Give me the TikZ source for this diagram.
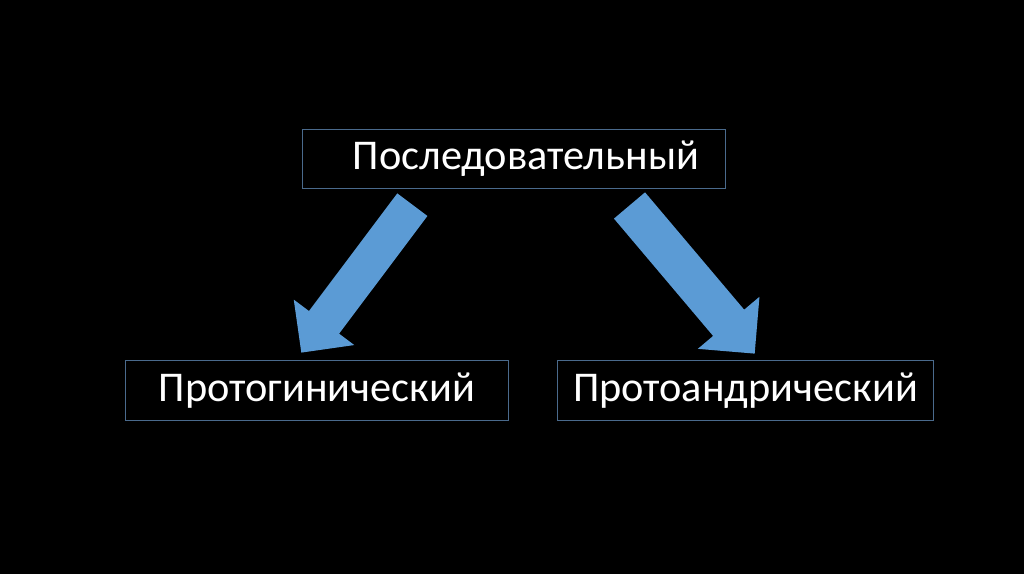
\documentclass[tikz,border=0pt]{standalone}
\usepackage{fontspec}
\setmainfont{Carlito}
\usetikzlibrary{shapes.arrows}
\definecolor{boxline}{HTML}{4A6A8C}
\definecolor{arrowblue}{HTML}{5B9BD5}

\begin{document}
\begin{tikzpicture}[
    x=0.02cm, y=-0.02cm,
    every node/.style={font=\fontsize{24.1}{28}\selectfont, text=white},
    kindbox/.style={rectangle, draw=boxline, line width=0.55pt, fill=black, inner sep=0pt, minimum height=1.19cm},
    blockarrow/.style={single arrow, fill=arrowblue, draw=none, inner xsep=0pt, single arrow tip angle=90, anchor=tip}
]
% fondo nero della diapositiva
\fill[black] (0,0) rectangle (1024,574);
\useasboundingbox (0,0) rectangle (1024,574);

% tipo di ermafroditismo e le due forme
\node[kindbox, minimum width=8.48cm] (seq) at (514,159) {\hspace*{0.48cm}Последовательный};
\node[kindbox, minimum width=7.68cm] (gyn) at (317,390.5) {Протогинический};
\node[kindbox, minimum width=7.54cm] (andr) at (745.5,390.5) {Протоандрический};

% frecce larghe
\node[blockarrow, minimum height=3.7cm, inner ysep=0.37cm,
      single arrow head extend=0.38cm, rotate=233.1] (toGyn) at (301,353) {};
\node[blockarrow, minimum height=3.88cm, inner ysep=0.4cm,
      single arrow head extend=0.4cm, rotate=-49.8] (toAndr) at (755,354) {};
\end{tikzpicture}
\end{document}
